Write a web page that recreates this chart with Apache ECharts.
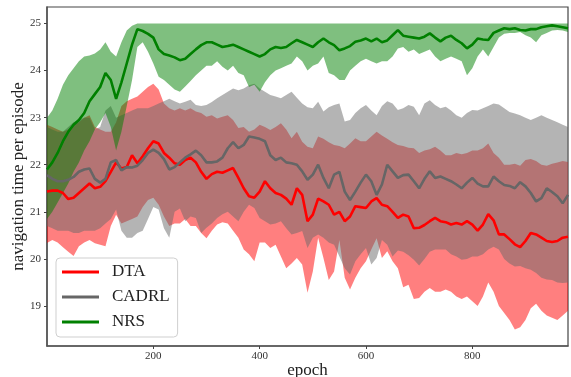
<!DOCTYPE html>
<html>
<head>
<meta charset="utf-8">
<script src="https://cdn.jsdelivr.net/npm/echarts@6/dist/echarts.min.js"></script>
<style>
  html, body { margin: 0; padding: 0; background: #fff; }
  #chart { width: 571px; height: 377px; }
</style>
</head>
<body>
<div id="chart"></div>
<script>
// epochs sampled every 10
const epochs = [
  0, 10, 20, 30, 40, 50, 60, 70, 80, 90,
  100, 110, 120, 130, 140, 150, 160, 170, 180, 190,
  200, 210, 220, 230, 240, 250, 260, 270, 280, 290,
  300, 310, 320, 330, 340, 350, 360, 370, 380, 390,
  400, 410, 420, 430, 440, 450, 460, 470, 480, 490,
  500, 510, 520, 530, 540, 550, 560, 570, 580, 590,
  600, 610, 620, 630, 640, 650, 660, 670, 680, 690,
  700, 710, 720, 730, 740, 750, 760, 770, 780, 790,
  800, 810, 820, 830, 840, 850, 860, 870, 880, 890,
  900, 910, 920, 930, 940, 950, 960, 970, 980
];

const dtaMean = [
  21.43, 21.45, 21.45, 21.4, 21.27, 21.3, 21.4, 21.5, 21.6, 21.5,
  21.53, 21.65, 21.85, 22.05, 21.92, 21.95, 22.2, 22.03, 22.18, 22.35,
  22.5, 22.45, 22.25, 22.15, 22.03, 22.0, 22.1, 22.15, 22.05, 21.85,
  21.7, 21.8, 21.85, 21.83, 21.88, 21.93, 21.72, 21.5, 21.33, 21.3,
  21.43, 21.65, 21.5, 21.4, 21.36, 21.28, 21.15, 21.5, 21.36, 20.8,
  20.94, 21.28, 21.22, 21.15, 20.94, 21.0, 20.8, 20.9, 21.12, 21.1,
  21.08, 21.22, 21.29, 21.15, 21.12, 21.0, 20.87, 20.94, 20.9, 20.65,
  20.66, 20.72, 20.8, 20.87, 20.8, 20.78, 20.73, 20.76, 20.73, 20.8,
  20.73, 20.6, 20.73, 20.95, 20.82, 20.52, 20.52, 20.42, 20.31, 20.25,
  20.38, 20.55, 20.52, 20.45, 20.38, 20.36, 20.38, 20.45, 20.47
];
const dtaUpper = [
  22.85, 22.8, 22.75, 22.7, 22.75, 22.85, 22.9, 23.0, 23.05, 22.8,
  22.75, 22.7, 22.7, 22.9, 23.25, 23.35, 23.4, 23.45, 23.55, 23.65,
  23.72, 23.6, 23.3, 23.2, 23.15, 23.2, 23.15, 23.2, 23.13, 23.1,
  23.02, 23.05, 22.98, 23.02, 23.05, 22.95, 22.78, 22.8, 22.7, 22.75,
  22.85, 22.8, 22.74, 22.8, 22.88, 22.75, 22.56, 22.7, 22.49, 22.38,
  22.35, 22.6, 22.55, 22.48, 22.42, 22.4, 22.35, 22.45, 22.56, 22.5,
  22.5, 22.6, 22.7, 22.62, 22.55, 22.48, 22.42, 22.4, 22.36, 22.35,
  22.25, 22.3, 22.33, 22.38, 22.3, 22.2, 22.2, 22.25, 22.22, 22.25,
  22.3, 22.3, 22.35, 22.45, 22.25, 22.15, 22.0, 22.0, 22.02, 21.98,
  22.1, 22.12, 22.08, 22.0, 21.98, 22.02, 22.05, 22.08, 22.06
];
const dtaLower = [
  20.34, 20.4, 20.35, 20.25, 20.15, 20.06, 20.27, 20.35, 20.4, 20.33,
  20.3, 20.27, 20.7, 20.94, 20.75, 20.8, 20.85, 20.9, 21.1, 21.25,
  21.3, 21.15, 20.9, 20.7, 20.75, 20.75, 20.85, 20.7, 20.7, 20.55,
  20.44, 20.6, 20.73, 20.78, 20.75, 20.6, 20.45, 20.2, 20.1, 19.95,
  20.35, 20.35, 20.23, 20.3, 20.05, 19.8, 19.9, 20.02, 19.88, 19.28,
  19.73, 20.45, 20.02, 19.55, 19.73, 20.4, 19.6, 19.35, 19.6, 19.8,
  19.95, 20.2, 20.44, 20.02, 20.16, 19.95, 19.8, 19.4, 19.45, 19.15,
  19.17, 19.3, 19.38, 19.3, 19.3, 19.35, 19.3, 19.2, 19.15, 19.2,
  19.1, 19.0, 19.2, 19.5, 19.3, 19.0, 18.85, 18.7, 18.5, 18.55,
  18.7, 18.95, 19.05, 18.9, 18.8, 18.75, 18.7, 18.8, 18.9
];

const cadrlMean = [
  21.78, 21.7, 21.65, 21.65, 21.68, 21.74, 21.85, 21.9, 21.92, 21.7,
  21.62, 21.7, 22.05, 22.1, 21.88, 21.95, 21.94, 21.98, 22.1, 22.25,
  22.32, 22.25, 22.12, 21.9, 21.95, 22.05, 22.15, 22.22, 22.3, 22.2,
  22.05, 22.05, 22.07, 22.15, 22.35, 22.48, 22.35, 22.42, 22.6, 22.58,
  22.55, 22.5, 22.2, 22.1, 22.15, 22.05, 22.03, 22.0, 21.86, 21.68,
  21.79, 22.0, 21.72, 21.5, 21.79, 21.85, 21.43, 21.25, 21.43, 21.62,
  21.79, 21.65, 21.36, 21.58, 22.0, 21.86, 21.72, 21.78, 21.79, 21.65,
  21.5, 21.7, 21.86, 21.72, 21.75, 21.7, 21.65, 21.58, 21.5, 21.62,
  21.72, 21.6, 21.54, 21.54, 21.75, 21.65, 21.57, 21.55, 21.5, 21.63,
  21.54, 21.4, 21.22, 21.29, 21.5, 21.42, 21.33, 21.18, 21.36
];
const cadrlUpper = [
  22.8, 22.75, 22.7, 22.7, 22.8, 22.9, 22.95, 23.0, 23.0, 22.75,
  22.8, 23.15, 23.25, 23.0, 23.05, 23.1, 23.15, 23.2, 23.2, 23.2,
  23.25, 23.3, 23.35, 23.4, 23.35, 23.3, 23.34, 23.38, 23.27, 23.25,
  23.27, 23.33, 23.41, 23.48, 23.55, 23.62, 23.58, 23.62, 23.69, 23.72,
  23.62, 23.55, 23.48, 23.45, 23.41, 23.48, 23.55, 23.42, 23.3, 23.22,
  23.2, 23.34, 23.13, 23.22, 23.27, 23.3, 22.92, 22.95, 23.1, 23.2,
  23.27, 23.15, 23.05, 23.25, 23.35, 23.3, 23.16, 23.2, 23.27, 23.23,
  23.05, 23.3, 23.37, 23.27, 23.2, 23.23, 23.15, 23.05, 23.0, 23.1,
  23.16, 23.15, 23.2, 23.25, 23.3, 23.28, 23.2, 23.12, 23.09, 23.05,
  23.0, 22.95, 23.0, 23.05, 23.0, 22.95, 22.9, 22.85, 22.8
];
const cadrlLower = [
  20.7, 20.65, 20.6, 20.6, 20.6, 20.55, 20.55, 20.6, 20.6, 20.6,
  20.65, 20.75, 20.85, 21.05, 20.6, 20.45, 20.45, 20.55, 20.6, 20.85,
  21.1, 21.05, 20.65, 20.45, 21.0, 21.07, 20.8, 20.9, 20.87, 20.55,
  20.66, 20.75, 20.87, 20.95, 21.0, 20.9, 20.8, 21.0, 21.15, 21.08,
  20.87, 20.8, 20.73, 20.75, 20.8, 20.65, 20.52, 20.55, 20.59, 20.23,
  20.45, 20.52, 20.45, 20.35, 20.3, 20.05, 19.8, 19.67, 19.95, 20.1,
  20.23, 19.88, 20.02, 20.4, 20.3, 20.05, 20.18, 20.15, 20.08, 19.98,
  19.86, 20.0, 20.15, 20.2, 20.2, 20.2, 20.1, 20.05, 19.98, 20.0,
  20.05, 20.05, 20.1, 20.2, 20.26, 20.2, 20.0, 19.9, 19.84, 19.85,
  19.8, 19.77, 19.7, 19.6, 19.56, 19.55, 19.5, 19.49, 19.5
];

const nrsMean = [
  21.9, 22.05, 22.25, 22.5, 22.7, 22.85, 22.95, 23.1, 23.35, 23.5,
  23.65, 23.95, 23.8, 23.4, 23.75, 24.15, 24.55, 24.88, 24.84, 24.78,
  24.7, 24.45, 24.35, 24.32, 24.28, 24.22, 24.25, 24.35, 24.45, 24.54,
  24.6, 24.6, 24.55, 24.5, 24.52, 24.55, 24.5, 24.45, 24.4, 24.35,
  24.3, 24.35, 24.45, 24.5, 24.48, 24.5, 24.58, 24.65, 24.6, 24.55,
  24.5, 24.6, 24.68, 24.6, 24.54, 24.43, 24.47, 24.52, 24.61, 24.64,
  24.68, 24.62, 24.68, 24.6, 24.64, 24.75, 24.86, 24.74, 24.72, 24.7,
  24.68, 24.72, 24.79, 24.7, 24.62, 24.7, 24.74, 24.65, 24.58, 24.47,
  24.55, 24.68, 24.66, 24.65, 24.8, 24.85, 24.9, 24.88, 24.9, 24.86,
  24.85, 24.88, 24.88, 24.92, 24.94, 24.96, 24.94, 24.92, 24.9
];
const nrsUpper = [
  23.0, 23.15, 23.4, 23.7, 23.9, 24.05, 24.2, 24.3, 24.32, 24.36,
  24.45, 24.6, 24.4, 24.3, 24.6, 24.85, 24.95, 25, 25, 25,
  25, 25, 25, 25, 25, 25, 25, 25, 25, 25,
  25, 25, 25, 25, 25, 25, 25, 25, 25, 25,
  25, 25, 25, 25, 25, 25, 25, 25, 25, 25,
  25, 25, 25, 25, 25, 25, 25, 25, 25, 25,
  25, 25, 25, 25, 25, 25, 25, 25, 25, 25,
  25, 25, 25, 25, 25, 25, 25, 25, 25, 25,
  25, 25, 25, 25, 25, 25, 25, 25, 25, 25,
  25, 25, 25, 25, 25, 25, 25, 25, 25
];
const nrsLower = [
  20.85, 21.0, 21.2, 21.4, 21.6, 21.85, 22.05, 22.3, 22.5, 22.75,
  22.9, 23.1, 22.8, 22.3, 22.7, 23.25, 23.8, 24.5, 24.6, 24.4,
  24.15, 23.87, 23.8, 23.7, 23.6, 23.55, 23.66, 23.78, 23.9, 24.0,
  24.1, 24.1, 24.2, 24.08, 24.0, 24.1, 23.95, 23.9, 23.65, 23.7,
  23.55, 23.75, 23.9, 24.0, 24.05, 24.1, 24.15, 24.3, 24.2, 24.0,
  24.1, 24.15, 24.3, 23.95, 23.9, 23.8, 23.8, 24.0, 24.1, 24.2,
  24.25, 24.2, 24.15, 24.2, 24.2, 24.3, 24.47, 24.5, 24.4, 24.45,
  24.35, 24.4, 24.45, 24.3, 24.2, 24.25, 24.3, 24.25, 24.2, 23.9,
  24.05, 24.3, 24.45, 24.3, 24.5, 24.7, 24.78, 24.8, 24.8, 24.82,
  24.75, 24.7, 24.6, 24.75, 24.8, 24.85, 24.86, 24.85, 24.82
];

const xTicks = [200, 400, 600, 800];
const yTicks = [19, 20, 21, 22, 23, 24, 25];

const FONT = '"Liberation Serif", "DejaVu Serif", serif';

// shaded band between lower and upper, drawn as one polygon through the axis scales
function band(key, lower, upper, color) {
  return {
    name: key + '-band', type: 'custom', silent: true,
    data: [[epochs[0], lower[0]]],
    encode: { x: 0, y: 1 },
    renderItem: function (params, api) {
      const pts = [];
      for (let i = 0; i < epochs.length; i++) pts.push(api.coord([epochs[i], upper[i]]));
      for (let i = epochs.length - 1; i >= 0; i--) pts.push(api.coord([epochs[i], lower[i]]));
      return { type: 'polygon', shape: { points: pts }, style: { fill: color } };
    }
  };
}

function meanLine(name, vals, color) {
  return {
    name: name, type: 'line', symbol: 'none',
    lineStyle: { color: color, width: 2.6 },
    itemStyle: { color: color },
    data: epochs.map((e, i) => [e, vals[i]])
  };
}

const chart = echarts.init(document.getElementById('chart'));
chart.setOption({
  animation: false,
  grid: {
    left: 47, right: 3, top: 7, bottom: 31,
    outerBoundsMode: 'none',
    show: true, borderColor: '#444', borderWidth: 1.2
  },
  legend: {
    data: ['DTA', 'CADRL', 'NRS'],
    orient: 'vertical',
    left: 56, top: 258,
    icon: 'rect', itemWidth: 37, itemHeight: 3, itemGap: 5,
    padding: [4, 8, 5, 6],
    backgroundColor: 'rgba(255,255,255,0.85)',
    borderColor: '#cfcfcf', borderWidth: 1, borderRadius: 4,
    textStyle: { fontFamily: FONT, fontSize: 17, color: '#222', lineHeight: 20, padding: [0, 0, 0, 8] }
  },
  xAxis: {
    type: 'value', min: 0, max: 980,
    name: 'epoch', nameLocation: 'middle', nameGap: 16, nameMoveOverlap: false,
    nameTextStyle: { fontFamily: FONT, fontSize: 17, color: '#222' },
    axisLine: { lineStyle: { color: '#555', width: 1.5 } },
    axisTick: { length: 3, lineStyle: { color: '#444' }, customValues: xTicks },
    axisLabel: { fontFamily: FONT, fontSize: 11, color: '#333', margin: 5, customValues: xTicks },
    splitLine: { show: false }
  },
  yAxis: {
    type: 'value', min: 18.15, max: 25.35,
    name: 'navigation time per episode', nameLocation: 'middle', nameGap: 20, nameMoveOverlap: false,
    nameTextStyle: { fontFamily: FONT, fontSize: 17, color: '#222' },
    axisLine: { show: true, lineStyle: { color: '#555', width: 1.5 } },
    axisTick: { show: true, length: 3, lineStyle: { color: '#444' }, customValues: yTicks },
    axisLabel: { fontFamily: FONT, fontSize: 11, color: '#333', margin: 6, customValues: yTicks },
    splitLine: { show: false }
  },
  series: [
    band('dta', dtaLower, dtaUpper, 'rgba(255,0,0,0.5)'),
    band('cadrl', cadrlLower, cadrlUpper, 'rgba(105,105,105,0.5)'),
    band('nrs', nrsLower, nrsUpper, 'rgba(0,128,0,0.5)'),
    meanLine('DTA', dtaMean, '#ff0000'),
    meanLine('CADRL', cadrlMean, '#666666'),
    meanLine('NRS', nrsMean, '#008000')
  ]
});
</script>
</body>
</html>
